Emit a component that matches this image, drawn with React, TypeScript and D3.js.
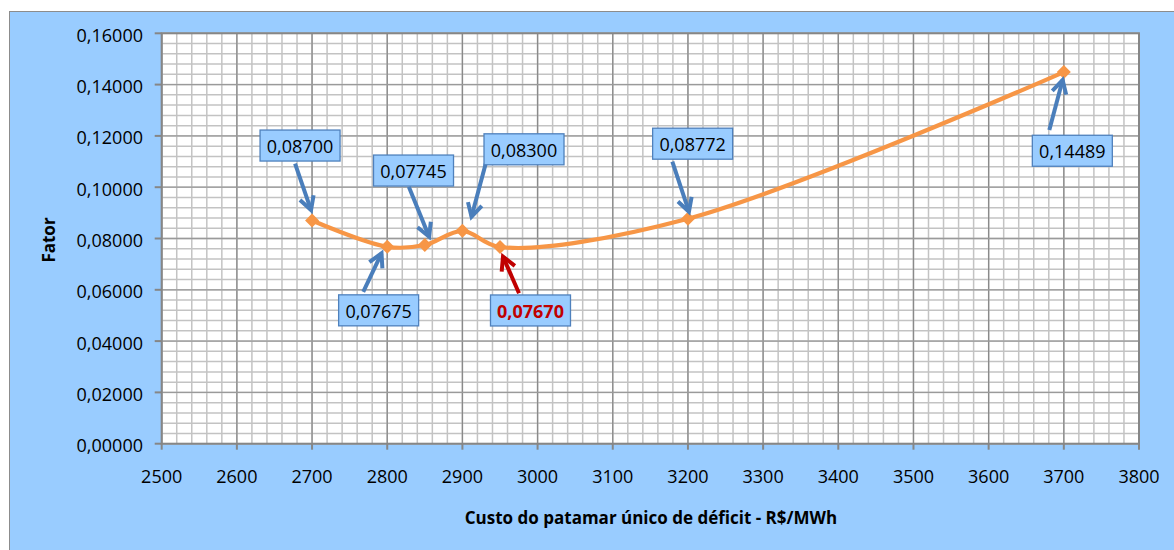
import React from "react";
import * as d3 from "d3";

// Deficit cost (R$/MWh) against the resulting factor
const custo: number[] = [2700, 2800, 2850, 2900, 2950, 3200, 3700];
const fator: number[] = [0.087, 0.07675, 0.07745, 0.083, 0.0767, 0.08772, 0.14489];
const rotulos: string[] = ["0,08700", "0,07675", "0,07745", "0,08300", "0,07670", "0,08772", "0,14489"];
const destaque: boolean[] = [false, false, false, false, true, false, false];

const xTicks: number[] = d3.range(2500, 3801, 100);
const yTicks: number[] = d3.range(0, 0.16001, 0.02);

const xTitle = "Custo do patamar único de déficit - R$/MWh";
const yTitle = "Fator";

// Callout placement relative to each point, in pixels: box centre, arrow tail, arrow tip
const calloutLayout = [
  { bx: -12, by: -75, tx: -17, ty: -57, px: -1, py: -10.5 },
  { bx: -8.6, by: 63.5, tx: -24, ty: 45, px: -5.7, py: 6.5 },
  { bx: -11.3, by: -74.5, tx: -16, ty: -58.3, px: 4.3, py: -8.3 },
  { bx: 61.6, by: -81.5, tx: 23.4, ty: -67.5, px: 9.1, py: -14.1 },
  { bx: 30.5, by: 63.5, tx: 19, ty: 46.3, px: 3, py: 9.7 },
  { bx: 4.7, by: -75, tx: -15.6, ty: -57, px: 1, py: -7 },
  { bx: 8.5, by: 78.7, tx: -14.5, ty: 58, px: -1.2, py: 8 },
];

const W = 1174;
const H = 550;
const left = 161.7;
const right = 1139;
const top = 33.3;
const bottom = 443.7;

const font = "'Open Sans', 'Noto Sans', sans-serif";

function fmtY(v: number) {
  return v.toFixed(5).replace(".", ",");
}

export default function App() {
  const x = d3.scaleLinear().domain([2500, 3800]).range([left, right]);
  const y = d3.scaleLinear().domain([0, 0.16]).range([bottom, top]);

  const xMinor = d3.range(2500, 3801, 20);
  const yMinor = d3.range(0, 0.16001, 0.004);

  const pts: [number, number][] = custo.map((c, i) => [x(c), y(fator[i])]);
  const line = d3.line().curve(d3.curveCatmullRom.alpha(0.5))(pts) || "";

  const boxW = 80;
  const boxH = 31;

  return (
    <svg
      width={W}
      height={H}
      style={{ position: "absolute", left: 0, top: 0, display: "block" }}
    >
      <rect x={9.5} y={11.5} width={W} height={H} fill="#99CCFF" stroke="#8c8c8c" strokeWidth={1} />
      <rect x={left} y={top} width={right - left} height={bottom - top} fill="#ffffff" />

      {/* minor grid */}
      {xMinor.map((v) => (
        <line key={"xm" + v} x1={x(v)} x2={x(v)} y1={top} y2={bottom} stroke="#c3c3c3" strokeWidth={1.5} />
      ))}
      {yMinor.map((v, i) => (
        <line key={"ym" + i} x1={left} x2={right} y1={y(v)} y2={y(v)} stroke="#c3c3c3" strokeWidth={1.5} />
      ))}
      {/* major grid */}
      {xTicks.map((v) => (
        <line key={"xM" + v} x1={x(v)} x2={x(v)} y1={top} y2={bottom} stroke="#8a8a8a" strokeWidth={1.3} />
      ))}
      {yTicks.map((v, i) => (
        <line key={"yM" + i} x1={left} x2={right} y1={y(v)} y2={y(v)} stroke="#9a9a9a" strokeWidth={1.3} />
      ))}
      <rect x={left} y={top} width={right - left} height={bottom - top} fill="none" stroke="#868686" strokeWidth={2} />

      {/* axis ticks and labels */}
      {yTicks.map((v, i) => (
        <g key={"yt" + i}>
          <line x1={left - 7} x2={left} y1={y(v)} y2={y(v)} stroke="#868686" strokeWidth={2} />
          <text x={143} y={y(v) + 8.4} textAnchor="end" fontFamily={font} fontSize={18} fill="#000">
            {fmtY(v)}
          </text>
        </g>
      ))}
      {xTicks.map((v) => (
        <g key={"xt" + v}>
          <line x1={x(v)} x2={x(v)} y1={bottom} y2={bottom + 6} stroke="#868686" strokeWidth={2} />
          <text x={x(v)} y={bottom + 39.6} textAnchor="middle" fontFamily={font} fontSize={18} fill="#000">
            {v}
          </text>
        </g>
      ))}

      <text x={651} y={523.5} textAnchor="middle" fontFamily={font} fontSize={17} fontWeight="bold" fill="#000">
        {xTitle}
      </text>
      <text
        transform="translate(54.5,240) rotate(-90)"
        textAnchor="middle"
        fontFamily={font}
        fontSize={17}
        fontWeight="bold"
        fill="#000"
      >
        {yTitle}
      </text>

      {/* smoothed series */}
      <path d={line} fill="none" stroke="#F79646" strokeWidth={4.2} strokeLinejoin="round" />
      {pts.map(([px, py], i) => (
        <path
          key={"m" + i}
          d={`M${px},${py - 7}L${px + 7},${py}L${px},${py + 7}L${px - 7},${py}Z`}
          fill="#F79646"
        />
      ))}

      {/* value callouts */}
      {pts.map(([px, py], i) => {
        const l = calloutLayout[i];
        const red = destaque[i];
        const col = red ? "#C00000" : "#4A7EBB";
        const tx = px + l.tx;
        const ty = py + l.ty;
        const hx = px + l.px;
        const hy = py + l.py;
        const ang = Math.atan2(hy - ty, hx - tx);
        const arm = 15;
        const spread = 0.5;
        const a1x = hx - arm * Math.cos(ang - spread);
        const a1y = hy - arm * Math.sin(ang - spread);
        const a2x = hx - arm * Math.cos(ang + spread);
        const a2y = hy - arm * Math.sin(ang + spread);
        const cx = px + l.bx;
        const cy = py + l.by;
        return (
          <g key={"c" + i}>
            <line x1={tx} y1={ty} x2={hx} y2={hy} stroke={col} strokeWidth={4} />
            <polyline
              points={`${a1x},${a1y} ${hx},${hy} ${a2x},${a2y}`}
              fill="none"
              stroke={col}
              strokeWidth={4}
              strokeLinejoin="miter"
            />
            <rect
              x={cx - boxW / 2}
              y={cy - boxH / 2}
              width={boxW}
              height={boxH}
              fill="#99CCFF"
              stroke="#4F81BD"
              strokeWidth={1.3}
            />
            <text
              x={cx}
              y={cy + 7.3}
              textAnchor="middle"
              fontFamily={font}
              fontSize={18}
              fontWeight={red ? "bold" : "normal"}
              fill={red ? "#C00000" : "#000"}
            >
              {rotulos[i]}
            </text>
          </g>
        );
      })}
    </svg>
  );
}
